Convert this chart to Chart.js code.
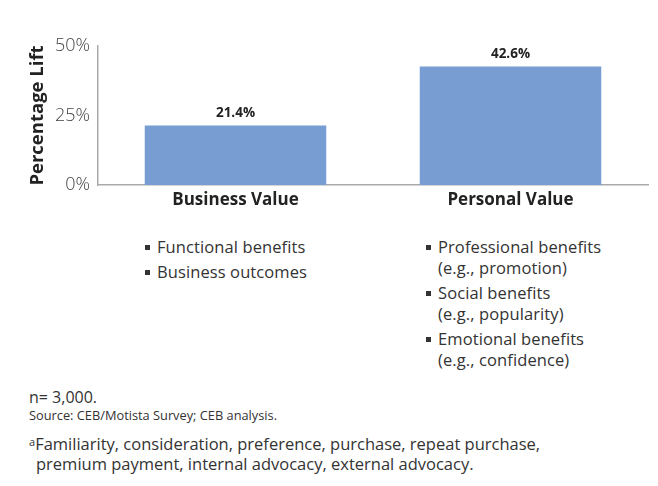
<!DOCTYPE html>
<html>
<head>
<meta charset="utf-8">
<script src="https://cdn.jsdelivr.net/npm/chart.js@4"></script>
<style>
  html, body { margin: 0; padding: 0; background: #fff; }
  body { width: 658px; height: 486px; position: relative; overflow: hidden; font-family: 'Open Sans', sans-serif; color: #333; }
  #chartBox { position: absolute; left: 0; top: 0; width: 658px; height: 220px; }
  .col { position: absolute; top: 236px; font-size: 16.5px; color: #333; letter-spacing: 0.1px; }
  .col .item { position: relative; padding-left: 12px; line-height: 21px; margin-bottom: 4px; white-space: nowrap; }
  .col .item::before { content: ''; position: absolute; left: 0; top: 9px; width: 5px; height: 5px; background: #333; }
  .note { position: absolute; white-space: nowrap; color: #333; }
</style>
</head>
<body>
<div id="chartBox"><canvas id="chart"></canvas></div>
<div class="col" id="colLeft" style="left:145px"></div>
<div class="col" id="colRight" style="left:426px"></div>
<div class="note" style="left:29px;top:387px;font-size:16px;line-height:20px">n= 3,000.</div>
<div class="note" style="left:29px;top:407px;font-size:12.8px;line-height:16px">Source: CEB/Motista Survey; CEB analysis.</div>
<div class="note" style="left:29px;top:432px;font-size:16.5px;line-height:20px"><span style="font-size:11px;vertical-align:4px">a</span>Familiarity, consideration, preference, purchase, repeat purchase,<br><span style="padding-left:7px">premium payment, internal advocacy, external advocacy.</span></div>
<script>
// chart data
const categories = ['Business Value', 'Personal Value'];
const liftValues = [21.4, 42.6];
const yTicks = [0, 25, 50];
const businessBullets = ['Functional benefits', 'Business outcomes'];
const personalBullets = ['Professional benefits\n(e.g., promotion)', 'Social benefits\n(e.g., popularity)', 'Emotional benefits\n(e.g., confidence)'];

function fillList(id, items) {
    const el = document.getElementById(id);
    items.forEach(t => {
        const d = document.createElement('div');
        d.className = 'item';
        d.innerHTML = t.replace('\n', '<br>');
        el.appendChild(d);
    });
}
fillList('colLeft', businessBullets);
fillList('colRight', personalBullets);

// value labels above bars
const barLabels = {
    id: 'barLabels',
    afterDatasetsDraw(chart) {
        const ctx = chart.ctx;
        const meta = chart.getDatasetMeta(0);
        ctx.save();
        ctx.font = 'bold 13.5px "Open Sans"';
        ctx.fillStyle = '#222';
        ctx.textAlign = 'center';
        ctx.textBaseline = 'middle';
        meta.data.forEach((bar, i) => {
            ctx.fillText(liftValues[i].toFixed(1) + '%', bar.x, bar.y - 12);
        });
        ctx.restore();
    }
};

new Chart(document.getElementById('chart'), {
    type: 'bar',
    data: {
        labels: categories,
        datasets: [{ data: liftValues, backgroundColor: '#789dd2', borderWidth: 0, barPercentage: 0.66, categoryPercentage: 1 }]
    },
    options: {
        responsive: true,
        maintainAspectRatio: false,
        animation: false,
        layout: { padding: { left: 27, right: 10, top: 46, bottom: 0 } },
        plugins: { legend: { display: false }, tooltip: { enabled: false } },
        scales: {
            x: {
                grid: { display: false, drawTicks: false },
                border: { color: '#aaa', width: 1.5 },
                ticks: { color: '#222', font: { family: 'Open Sans', size: 17, weight: 'bold' }, padding: 5 },
                afterFit: s => { s.height = 35; }
            },
            y: {
                min: 0, max: 50,
                afterBuildTicks: s => { s.ticks = yTicks.map(v => ({ value: v })); },
                grid: { display: false, drawTicks: false },
                border: { color: '#aaa', width: 1.5 },
                ticks: { color: '#444', font: { family: 'Open Sans', size: 18, weight: 300 }, padding: 8, callback: v => v + '%' },
                title: { display: true, text: 'Percentage Lift', color: '#222', font: { family: 'Open Sans', size: 18.5, weight: 'bold' }, padding: 0 },
                afterFit: s => { s.width = 71; }
            }
        }
    },
    plugins: [barLabels]
});
</script>
</body>
</html>
